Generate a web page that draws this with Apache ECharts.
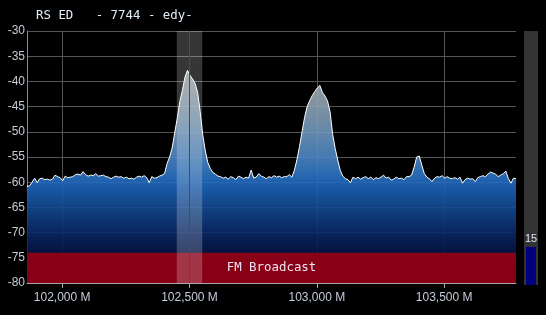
<!DOCTYPE html>
<html><head><meta charset="utf-8">
<script src="https://cdn.jsdelivr.net/npm/echarts@6/dist/echarts.min.js"></script>
<style>html,body{margin:0;padding:0;background:#000;}#c{width:546px;height:315px;}</style>
</head><body><div id="c"></div>
<script>
const titleText = 'RS ED   - 7744 - edy-';
const freqStart = 101862;
const freqStep = 10;
const levels = [
 -60.9,-60.7,-60.0,-59.2,-60.1,-59.3,-59.2,-59.5,-59.4,-59.6,
 -59.4,-58.6,-58.9,-59.1,-59.7,-58.8,-59.1,-59.0,-58.9,-58.5,
 -58.4,-58.6,-57.9,-58.5,-58.8,-58.6,-58.7,-58.3,-58.8,-58.7,
 -58.6,-58.9,-59.0,-59.3,-59.0,-58.8,-59.0,-58.9,-59.2,-59.0,
 -59.3,-59.2,-59.4,-59.0,-58.8,-59.0,-58.7,-59.1,-60.1,-58.9,
 -59.2,-59.1,-58.8,-58.6,-58.3,-56.3,-55.0,-53.2,-50.2,-47.3,
 -44.0,-41.8,-39.2,-37.8,-38.8,-39.5,-40.4,-42.2,-46.0,-50.6,
 -53.8,-56.1,-57.3,-58.1,-58.4,-58.8,-58.9,-59.2,-59.0,-59.4,
 -58.9,-59.1,-59.5,-58.8,-59.0,-59.3,-59.0,-59.2,-57.6,-59.2,
 -59.0,-58.3,-58.8,-59.0,-59.3,-58.9,-59.1,-58.7,-59.0,-58.8,
 -59.1,-58.9,-58.9,-58.5,-59.0,-57.6,-55.5,-52.9,-50.0,-47.1,
 -45.0,-43.8,-42.8,-42.0,-41.3,-40.8,-42.2,-42.9,-43.9,-46.0,
 -50.5,-53.3,-55.6,-57.7,-58.8,-59.3,-59.5,-60.1,-59.0,-59.3,
 -59.0,-59.4,-59.1,-58.9,-59.3,-59.0,-59.5,-59.1,-59.3,-59.0,
 -58.6,-59.2,-59.0,-59.6,-59.4,-59.0,-59.3,-59.2,-59.5,-58.9,
 -58.9,-58.6,-57.0,-55.0,-54.8,-56.6,-58.3,-59.0,-59.3,-59.9,
 -59.2,-58.9,-59.0,-58.7,-59.2,-58.9,-59.2,-59.3,-59.1,-59.4,
 -59.0,-60.2,-59.5,-59.2,-59.4,-59.3,-59.9,-59.1,-58.9,-58.7,
 -58.9,-58.4,-58.0,-58.2,-58.4,-58.9,-58.6,-58.3,-57.8,-59.3,
 -60.2,-59.2,-59.3
];
const freqTicks = [102000, 102500, 103000, 103500];
const yMin = -80, yMax = -30, yStep = 5;
const markerFreq = 102500;
const channelBand = [102450, 102550];
const bandLevels = [-80, -74];
const bandName = 'FM Broadcast';
const gaugeCategories = ['S'];
const gaugeValues = [15];
const gaugeMax = 100;

const freqEnd = freqStart + (levels.length - 1) * freqStep;
const spectrum = levels.map((v, i) => [freqStart + i * freqStep, v]);

const chart = echarts.init(document.getElementById('c'), null, {renderer: 'canvas'});
const labelFont = "'Liberation Sans', Arial, sans-serif";
const monoFont = "'DejaVu Sans Mono', monospace";

chart.setOption({
  backgroundColor: '#000',
  animation: false,
  title: {
    text: titleText, left: 36, top: 10, padding: 0,
    textStyle: {fontFamily: monoFont, fontSize: 12.4, fontWeight: 'normal', color: '#e2ecf8'}
  },
  grid: [
    {left: 27, right: 30, top: 31, bottom: 32},
    {left: 524, width: 14, top: 31, bottom: 30, show: true, backgroundColor: '#333', borderWidth: 0}
  ],
  xAxis: [
    {
      type: 'value', gridIndex: 0, min: freqStart, max: freqEnd, splitNumber: 4,
      axisLine: {show: true, lineStyle: {color: '#a8a8a8'}},
      axisTick: {show: true, customValues: freqTicks, length: 5, lineStyle: {color: '#a8a8a8'}},
      axisLabel: {customValues: freqTicks,
        formatter: v => v.toLocaleString('en-US') + ' M',
        color: '#c4ccd8', fontSize: 12, fontFamily: labelFont, margin: 9},
      splitLine: {show: true, lineStyle: {color: '#555'}}
    },
    {type: 'category', gridIndex: 1, data: gaugeCategories, show: false}
  ],
  yAxis: [
    {
      type: 'value', gridIndex: 0, min: yMin, max: yMax, interval: yStep,
      axisLine: {show: true, lineStyle: {color: '#8a8a8a'}},
      axisTick: {show: false},
      axisLabel: {color: '#c4ccd8', fontSize: 12, fontFamily: labelFont, margin: 2},
      splitLine: {show: true, lineStyle: {color: '#555'}}
    },
    {type: 'value', gridIndex: 1, min: 0, max: gaugeMax, show: false}
  ],
  series: [
    {
      type: 'line', xAxisIndex: 0, yAxisIndex: 0, data: spectrum, symbol: 'none', z: 2,
      lineStyle: {color: '#ffffff', width: 1},
      areaStyle: {
        origin: 'start', opacity: 0.9,
        color: new echarts.graphic.LinearGradient(0, 0, 0, 1, [
          {offset: 0, color: '#a6adb0'},
          {offset: 0.17, color: '#8ca2b4'},
          {offset: 0.29, color: '#6f97bd'},
          {offset: 0.41, color: '#4b86c6'},
          {offset: 0.5, color: '#2a72c4'},
          {offset: 0.55, color: '#1c63b9'},
          {offset: 0.65, color: '#134890'},
          {offset: 0.77, color: '#0a2766'},
          {offset: 0.88, color: '#03103c'},
          {offset: 1, color: '#000428'}
        ])
      },
      silent: true
    },
    {
      type: 'line', xAxisIndex: 0, yAxisIndex: 0, data: [], silent: true,
      markArea: {
        z: 3, silent: true,
        itemStyle: {color: '#920014', opacity: 0.93},
        label: {show: true, position: 'inside', color: '#ece2f4', fontFamily: monoFont, fontSize: 12.4},
        data: [[{name: bandName, yAxis: bandLevels[0], xAxis: freqStart}, {yAxis: bandLevels[1], xAxis: freqEnd}]]
      }
    },
    {
      type: 'line', xAxisIndex: 0, yAxisIndex: 0, data: [], silent: true,
      markArea: {
        z: 4, silent: true,
        itemStyle: {color: 'rgba(255,255,255,0.21)'},
        label: {show: false},
        data: [[{xAxis: channelBand[0], yAxis: yMax}, {xAxis: channelBand[1], yAxis: yMin}]]
      }
    },
    {
      type: 'line', xAxisIndex: 0, yAxisIndex: 0, data: [], silent: true,
      markLine: {
        z: 6, silent: true, symbol: ['none', 'none'], animation: false,
        lineStyle: {color: '#ff0000', width: 1, type: 'solid'},
        label: {show: false},
        data: [{xAxis: markerFreq}]
      }
    },
    {
      type: 'bar', xAxisIndex: 1, yAxisIndex: 1, data: gaugeValues, barWidth: 10, silent: true,
      itemStyle: {color: '#000080'},
      label: {show: true, position: 'top', distance: 2, color: '#dfe6f0', fontSize: 11, fontFamily: labelFont}
    }
  ]
});
</script></body></html>
